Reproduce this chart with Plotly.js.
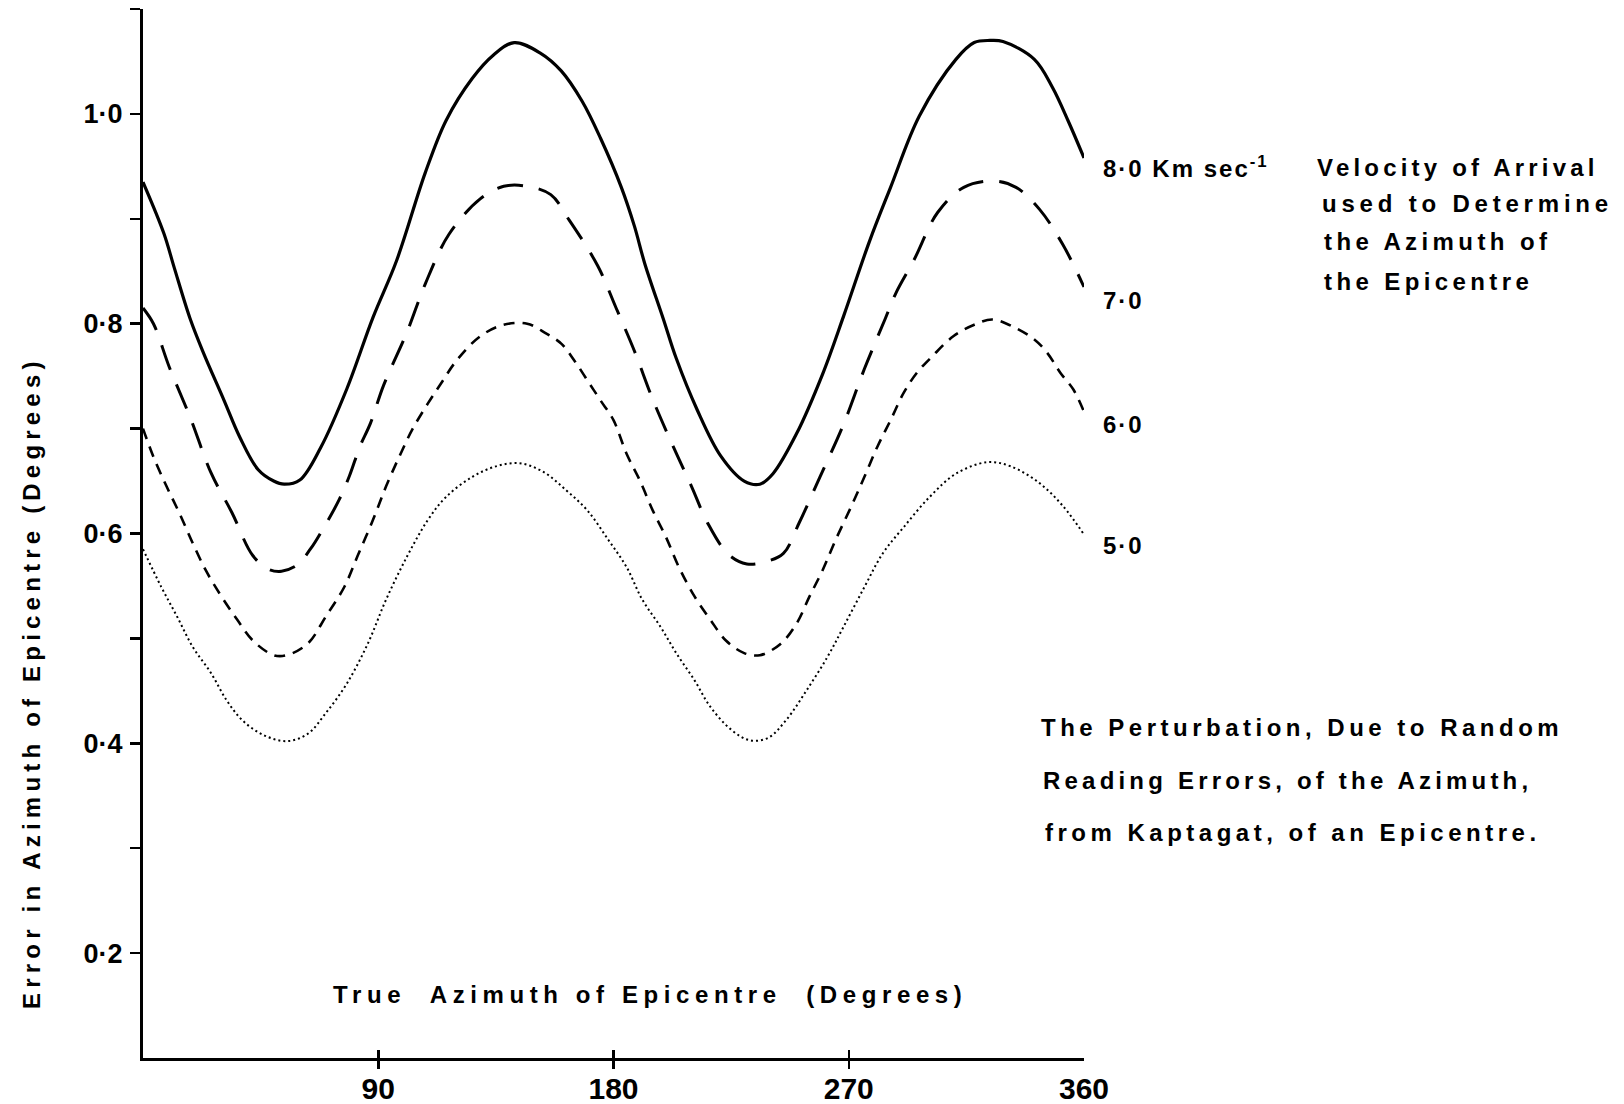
<!DOCTYPE html>
<html>
<head>
<meta charset="utf-8">
<script src="https://cdn.plot.ly/plotly-3.0.1.min.js"></script>
<style>
  html, body { margin: 0; padding: 0; background: #fff; }
  #chart { width: 1624px; height: 1104px; }
</style>
</head>
<body>
<div id="chart"></div>
<script>
// ---- Data (true azimuth in degrees, error in degrees) ----
const az80 = [0,8,12,18,23,31,37,44,50,54,60,68,78,88,97,108,116,126,134,142,152,160,168,175,183,188,192,199,204,212,221,230,236,241,250,260,268,278,286,297,311,318,324,329,341,348,354,360];
const err80 = [0.935,0.886,0.853,0.805,0.773,0.727,0.692,0.661,0.650,0.647,0.651,0.682,0.738,0.806,0.860,0.944,0.994,1.034,1.056,1.068,1.058,1.041,1.012,0.977,0.930,0.893,0.857,0.805,0.767,0.718,0.674,0.650,0.647,0.657,0.695,0.752,0.807,0.879,0.930,0.998,1.052,1.068,1.070,1.069,1.052,1.025,0.993,0.958];

const az70 = [0,4,10,18,26,34,42,48,53,59,64,69,75,79,83,87,92,101,108,117,129,138,147,156,163,174,181,188,195,203,210,216,224,231,238,245,251,259,268,276,284,288,295,304,314,326,334,343,352,360];
const err70 = [0.815,0.800,0.759,0.711,0.658,0.620,0.579,0.566,0.564,0.570,0.585,0.605,0.632,0.655,0.683,0.705,0.741,0.792,0.838,0.885,0.919,0.931,0.931,0.923,0.899,0.855,0.815,0.774,0.728,0.682,0.644,0.610,0.580,0.571,0.573,0.581,0.610,0.654,0.704,0.757,0.805,0.829,0.861,0.906,0.930,0.936,0.930,0.909,0.875,0.835];

const az60 = [0,4,9,14,19,24,30,36,42,50,55,63,70,77,82,88,93,98,103,109,114,120,129,138,147,154,160,165,170,175,180,185,190,195,200,205,211,217,223,230,236,244,250,255,260,265,271,276,281,286,291,296,302,310,318,325,333,341,346,351,356,360];
const err60 = [0.700,0.673,0.645,0.619,0.591,0.565,0.540,0.518,0.498,0.484,0.484,0.495,0.521,0.549,0.578,0.613,0.645,0.673,0.699,0.724,0.743,0.765,0.788,0.799,0.800,0.791,0.781,0.765,0.746,0.727,0.708,0.676,0.651,0.622,0.597,0.568,0.540,0.518,0.498,0.486,0.484,0.495,0.514,0.540,0.565,0.594,0.626,0.654,0.683,0.708,0.734,0.753,0.769,0.788,0.799,0.804,0.797,0.785,0.772,0.753,0.737,0.716];

const az50 = [0,7,13,19,26,32,38,46,55,63,70,78,86,93,101,109,116,126,135,144,153,162,170,178,185,191,198,204,211,217,225,232,239,246,254,262,268,276,283,291,301,311,323,332,343,352,360];
const err50 = [0.585,0.549,0.521,0.492,0.467,0.441,0.422,0.408,0.402,0.409,0.429,0.457,0.495,0.537,0.578,0.613,0.635,0.654,0.664,0.667,0.659,0.641,0.622,0.594,0.568,0.537,0.511,0.486,0.460,0.435,0.413,0.403,0.405,0.422,0.451,0.483,0.511,0.549,0.581,0.606,0.635,0.657,0.668,0.664,0.648,0.626,0.599];

const xTickVals = [90,180,270,360];
const xTickText = ['90','180','270','360'];
const yTickVals = [0.2,0.3,0.4,0.5,0.6,0.7,0.8,0.9,1.0,1.1];
const yTickText = ['0·2','','0·4','','0·6','','0·8','','1·0',''];

const seriesLabels = ['8·0 Km sec<sup>-1</sup>','7·0','6·0','5·0'];
const legendLines = ['Velocity of Arrival','used to Determine','the Azimuth of','the Epicentre'];
const captionLines = ['The Perturbation, Due to Random','Reading Errors, of the Azimuth,','from Kaptagat, of an Epicentre.'];
const xTitle = 'True  Azimuth of Epicentre  (Degrees)';
const yTitle = 'Error in Azimuth of Epicentre (Degrees)';

// ---- Styling ----
const INK = '#000';
const FONT = 'Liberation Sans, Arial, sans-serif';
function sp(text, ls) { return '<span style="letter-spacing:' + ls + 'px">' + text + '</span>'; }

const traces = [
  {x: az80, y: err80, mode: 'lines', line: {color: INK, width: 3.2, shape: 'spline', smoothing: 1}},
  {x: az70, y: err70, mode: 'lines', line: {color: INK, width: 3, dash: '26px,16px', shape: 'spline', smoothing: 1}},
  {x: az60, y: err60, mode: 'lines', line: {color: INK, width: 2.6, dash: '11px,8px', shape: 'spline', smoothing: 1}},
  {x: az50, y: err50, mode: 'lines', line: {color: INK, width: 2, dash: '2px,3px', shape: 'spline', smoothing: 1}}
];

const L = 143, R = 1084, T = 9, B = 1058;
const px = X => (X - L) / (R - L);
const py = Y => (B - Y) / (B - T);

const annFont = s => ({family: FONT, size: s, color: INK, weight: 'bold'});
const annotations = [];
// series labels
const labelY = [167, 300, 425, 545];
seriesLabels.forEach((t, i) => annotations.push({
  text: sp(t, 2), x: px(1101), y: py(labelY[i]), xref: 'paper', yref: 'paper',
  xanchor: 'left', yanchor: 'middle', showarrow: false, font: annFont(24)
}));
// legend text block
const legX = [1315, 1320, 1322, 1322], legY = [167, 204, 241, 282];
const legLS = [4.2, 4.8, 4.4, 4.4];
legendLines.forEach((t, i) => annotations.push({
  text: sp(t, legLS[i]), x: px(legX[i]), y: py(legY[i]), xref: 'paper', yref: 'paper',
  xanchor: 'left', yanchor: 'middle', showarrow: false, font: annFont(24)
}));
// caption block
const capX = [1039, 1041, 1043], capY = [727, 780, 832];
const capLS = [4.5, 4.2, 4.5];
captionLines.forEach((t, i) => annotations.push({
  text: sp(t, capLS[i]), x: px(capX[i]), y: py(capY[i]), xref: 'paper', yref: 'paper',
  xanchor: 'left', yanchor: 'middle', showarrow: false, font: annFont(24)
}));
// axis titles
annotations.push({
  text: sp(xTitle, 5.6), x: px(650), y: py(994), xref: 'paper', yref: 'paper',
  xanchor: 'center', yanchor: 'middle', showarrow: false, font: annFont(24)
});
annotations.push({
  text: sp(yTitle, 5.2), x: px(31), y: py(683), xref: 'paper', yref: 'paper',
  xanchor: 'center', yanchor: 'middle', textangle: -90, showarrow: false, font: annFont(24)
});

const layout = {
  width: 1624, height: 1104,
  margin: {l: L, r: 1624 - R, t: T, b: 1104 - B, pad: 0},
  paper_bgcolor: '#fff', plot_bgcolor: '#fff',
  showlegend: false,
  xaxis: {
    range: [0, 360], showgrid: false, zeroline: false,
    showline: true, linecolor: INK, linewidth: 3,
    ticks: 'outside', ticklen: 8, tickwidth: 2.5, tickcolor: INK,
    tickvals: xTickVals.slice(0, 3), ticktext: xTickText.slice(0, 3),
    showticklabels: false
  },
  xaxis2: {
    overlaying: 'x', anchor: 'y', side: 'bottom', matches: 'x',
    range: [0, 360], showgrid: false, zeroline: false, showline: false,
    ticks: 'inside', ticklen: 8, tickwidth: 2.5, tickcolor: INK,
    tickvals: xTickVals, ticktext: xTickText, showticklabels: true,
    tickfont: {family: FONT, size: 30, color: INK, weight: 'bold'},
    ticklabelstandoff: 10
  },
  yaxis: {
    range: [0.1, 1.1], showgrid: false, zeroline: false,
    showline: true, linecolor: INK, linewidth: 3,
    ticks: 'outside', ticklen: 10, tickwidth: 2.5, tickcolor: INK,
    tickvals: yTickVals, ticktext: yTickText,
    tickfont: {family: FONT, size: 27, color: INK, weight: 'bold'},
    ticklabelstandoff: 2
  },
  yaxis2: {
    overlaying: 'y', anchor: 'x', side: 'left', matches: 'y',
    range: [0.1, 1.1], showgrid: false, zeroline: false, showline: false,
    ticks: 'inside', ticklen: 10, tickwidth: 2.5, tickcolor: INK,
    tickvals: [1.1], showticklabels: false
  },
  annotations: annotations
};

traces.push({x: [], y: [], xaxis: 'x2', yaxis: 'y2', mode: 'lines', hoverinfo: 'skip'});

Plotly.newPlot('chart', traces, layout, {staticPlot: true, displayModeBar: false});
</script>
</body>
</html>
